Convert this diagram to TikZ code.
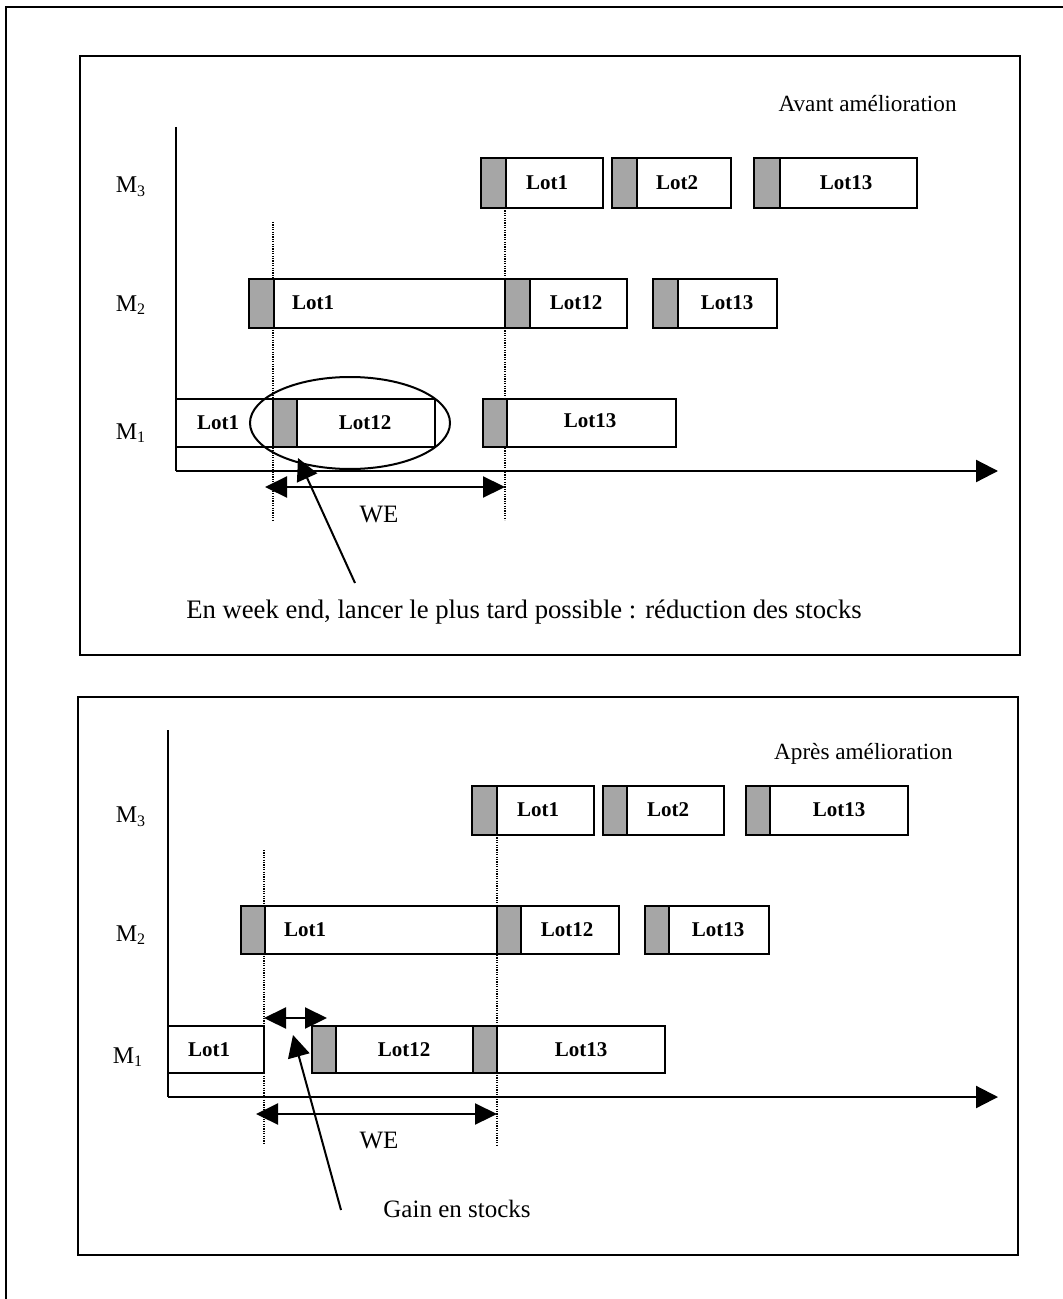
\documentclass[tikz,border=0pt]{standalone}
\usepackage{fontspec}
\setmainfont{Liberation Serif}
\usetikzlibrary{arrows.meta,shapes.geometric}
\tikzset{
  boxline/.style={line width=1.1pt, draw=black},
  setupfill/.style={fill=black!35},
  frameline/.style={line width=1pt},
  axisline/.style={line width=1.1pt},
  guide/.style={line width=0.7pt, dash pattern=on 0.6pt off 0.6pt},
  bigtip/.style={-{Triangle[length=11pt,width=11pt]}},
  twotip/.style={{Triangle[length=11pt,width=10.5pt]}-{Triangle[length=11pt,width=10.5pt]}},
  lotlabel/.style={font=\fontsize{10.5}{12}\selectfont\bfseries, inner sep=0pt},
  mlabel/.style={font=\fontsize{12}{14}\selectfont, inner sep=0pt},
  txt/.style={font=\fontsize{12.5}{15}\selectfont, inner sep=0pt},
  titletxt/.style={font=\fontsize{11.6}{14}\selectfont, inner sep=0pt},
  captxt/.style={font=\fontsize{13.35}{16}\selectfont, inner sep=0pt},
}
% #1 xl, #2 xs (end of grey part), #3 xr, #4 yt, #5 yb
\newcommand{\lotrect}[5]{%
  \fill[setupfill] (#1,#4) rectangle (#2,#5);
  \draw[boxline] (#1,#4) rectangle (#3,#5);
  \draw[boxline] (#2,#4) -- (#2,#5);
}
\begin{document}
\begin{tikzpicture}[x=0.5pt,y=-0.5pt]
\useasboundingbox (0,0) rectangle (1063,1299);
% outer frame
\draw[frameline] (6,1299) -- (6,7) -- (1063,7);
%================ TOP PANEL =================
\draw[frameline] (80,56) rectangle (1020,655);
\node[titletxt, anchor=east] (avant) at (957,104) {Avant amélioration};
% axes
\coordinate (o1) at (176,471);
\coordinate (y1) at (176,127);
\coordinate (x1) at (998,471);
\draw[axisline] (y1) -- (o1);
\draw[axisline, bigtip] (o1) -- (x1);
\node[mlabel] (m3a) at (131,187) {M\textsubscript{3}};
\node[mlabel] (m2a) at (131,305) {M\textsubscript{2}};
\node[mlabel] (m1a) at (131,433) {M\textsubscript{1}};
% dotted guides
\draw[guide] (273,222) -- (273,520);
\draw[guide] (505,208) -- (505,520);
% M3
\lotrect{481}{506}{603}{158}{208}
\lotrect{612}{637}{731}{158}{208}
\lotrect{754}{780}{917}{158}{208}
\node[lotlabel] (a31) at (547,183) {Lot1};
\node[lotlabel] (a32) at (677,183) {Lot2};
\node[lotlabel] (a313) at (846,183) {Lot13};
% M2
\lotrect{249}{274}{505}{279}{328}
\lotrect{505}{530}{627}{279}{328}
\lotrect{653}{678}{777}{279}{328}
\node[lotlabel] (a21) at (313,303) {Lot1};
\node[lotlabel] (a212) at (576,303) {Lot12};
\node[lotlabel] (a213) at (727,303) {Lot13};
% M1
\draw[boxline] (176,399) rectangle (273,447);
\lotrect{273}{297}{435}{399}{447}
\lotrect{483}{507}{676}{399}{447}
\node[lotlabel] (a11) at (218,423) {Lot1};
\node[lotlabel] (a112) at (365,423) {Lot12};
\node[lotlabel] (a113) at (590,421) {Lot13};
% ellipse
\node[draw, line width=1pt, ellipse, minimum width=100pt, minimum height=46pt, inner sep=0pt] (ell) at (350,423) {};
% WE arrow
\coordinate (wea1) at (265,487);
\coordinate (wea2) at (505,487);
\draw[line width=1.1pt, twotip] (wea1) -- (wea2);
\node[txt] (wea) at (379,515) {WE};
% pointer
\coordinate (pa1) at (355,583);
\coordinate (pa2) at (298,458);
\draw[line width=1pt, bigtip] (pa1) -- (pa2);
\node[captxt] (capa) at (524,612) {En week end, lancer le plus tard possible : réduction des stocks};
%================ BOTTOM PANEL =================
\draw[frameline] (78,697) rectangle (1018,1255);
\node[titletxt, anchor=east] (apres) at (953,754) {Après amélioration};
\coordinate (o2) at (168,1097);
\coordinate (y2) at (168,730);
\coordinate (x2) at (998,1097);
\draw[axisline] (y2) -- (o2);
\draw[axisline, bigtip] (o2) -- (x2);
\node[mlabel] (m3b) at (131,817) {M\textsubscript{3}};
\node[mlabel] (m2b) at (131,935) {M\textsubscript{2}};
\node[mlabel] (m1b) at (128,1057) {M\textsubscript{1}};
\draw[guide] (264,850) -- (264,1145);
\draw[guide] (497,835) -- (497,1145);
% M3
\lotrect{472}{497}{594}{786}{835}
\lotrect{603}{627}{724}{786}{835}
\lotrect{746}{770}{908}{786}{835}
\node[lotlabel] (b31) at (538,810) {Lot1};
\node[lotlabel] (b32) at (668,810) {Lot2};
\node[lotlabel] (b313) at (839,810) {Lot13};
% M2
\lotrect{241}{265}{497}{906}{954}
\lotrect{497}{521}{619}{906}{954}
\lotrect{645}{669}{769}{906}{954}
\node[lotlabel] (b21) at (305,930) {Lot1};
\node[lotlabel] (b212) at (567,930) {Lot12};
\node[lotlabel] (b213) at (718,930) {Lot13};
% M1
\draw[boxline] (168,1026) rectangle (264,1073);
\lotrect{312}{336}{473}{1026}{1073}
\lotrect{473}{497}{665}{1026}{1073}
\node[lotlabel] (b11) at (209,1050) {Lot1};
\node[lotlabel] (b112) at (404,1050) {Lot12};
\node[lotlabel] (b113) at (581,1050) {Lot13};
% small gain arrow
\coordinate (g1) at (264,1018);
\coordinate (g2) at (327,1018);
\draw[line width=1.1pt, twotip] (g1) -- (g2);
% WE arrow
\coordinate (web1) at (256,1114);
\coordinate (web2) at (497,1114);
\draw[line width=1.1pt, twotip] (web1) -- (web2);
\node[txt] (web) at (379,1140) {WE};
% pointer
\coordinate (pb1) at (341,1210);
\coordinate (pb2) at (293,1035);
\draw[line width=1pt, bigtip] (pb1) -- (pb2);
\node[txt] (capb) at (457,1209) {Gain en stocks};
\end{tikzpicture}
\end{document}
